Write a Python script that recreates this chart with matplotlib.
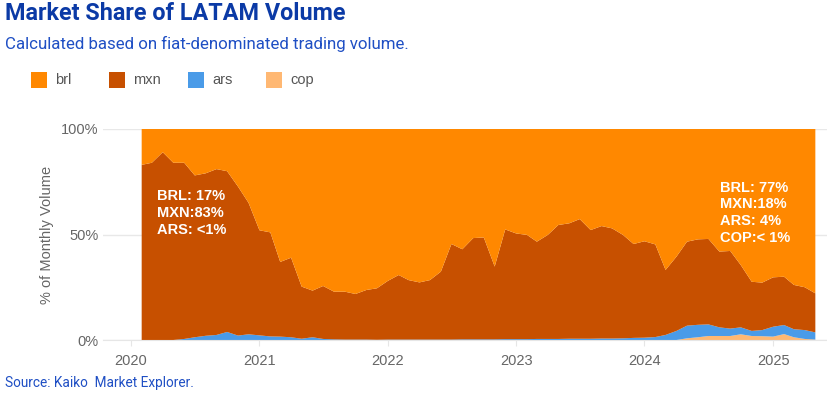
import pandas as pd
import numpy as np
import matplotlib.pyplot as plt
import matplotlib.dates as mdates
from matplotlib.patches import Rectangle

# monthly shares (%), Feb 2020 - May 2025
months = pd.date_range('2020-02-01', '2025-05-01', freq='MS')

brl = [17, 16, 11, 16, 16, 22, 21, 19, 20, 27.3,
       35, 48, 49, 63, 61, 74.7, 76.6, 74.4, 77.1, 77.1,
       78.2, 76.3, 75.5, 72, 69.2, 71.6, 72.7, 71.6, 67.6, 54.5,
       57, 51.7, 51.4, 65.2, 47.6, 49.5, 50.2, 53.4, 50.2, 45.5,
       44.7, 42.7, 47.9, 46, 47.1, 50.2, 54.5, 53.2, 54.7, 66.8,
       60.5, 53.4, 52.3, 52.1, 58.1, 57.8, 64.5, 72.4, 72.8, 70.3,
       70, 73.9, 75, 77.9]
mxn = [83, 84, 89, 84, 83.5, 76.7, 77, 78.6, 76.2, 70.6,
       62.3, 49.8, 49.3, 35.4, 37.7, 24.7, 22.1, 25.1, 22.6, 22.7,
       21.6, 23.5, 24.4, 27.8, 30.6, 28.2, 27.1, 28.2, 32.2, 45.3,
       42.7, 48.0, 48.3, 34.5, 52.0, 50.1, 49.4, 46.1, 49.3, 54.0,
       54.7, 56.7, 51.5, 53.3, 52.2, 49.0, 44.5, 45.7, 43.9, 30.8,
       35.2, 39.8, 40.5, 40.5, 35.9, 36.8, 29.5, 23.3, 22.5, 23.4,
       22.9, 21.0, 20.3, 18.5]
ars = [0, 0, 0, 0, 0.5, 1.3, 2.0, 2.4, 3.8, 2.1,
       2.7, 2.2, 1.7, 1.6, 1.3, 0.6, 1.3, 0.5, 0.3, 0.2,
       0.2, 0.2, 0.1, 0.2, 0.2, 0.2, 0.2, 0.2, 0.2, 0.2,
       0.3, 0.3, 0.3, 0.3, 0.4, 0.4, 0.4, 0.5, 0.5, 0.5,
       0.6, 0.6, 0.6, 0.7, 0.7, 0.8, 1.0, 1.1, 1.4, 2.4,
       4.3, 6.0, 5.9, 5.5, 4.1, 3.5, 3.3, 2.4, 2.9, 4.7,
       4.3, 3.8, 4.2, 3.4]
cop = [0] * 51 + [0.8, 1.3, 1.9, 1.9, 1.9, 2.7, 1.9, 1.8, 1.6,
                  2.8, 1.3, 0.5, 0.2]

series = ['brl', 'mxn', 'ars', 'cop']
colors = {'brl': '#FF8800', 'mxn': '#C75000', 'ars': '#4A9BE8', 'cop': '#FFB873'}

df = pd.DataFrame({'cop': cop, 'ars': ars, 'mxn': mxn, 'brl': brl}, index=months)
share = df.div(df.sum(axis=1), axis=0) * 100

plt.rcParams['font.family'] = ['Liberation Sans', 'DejaVu Sans']

fig = plt.figure(figsize=(8.28, 3.97), dpi=100)
ax = fig.add_axes([103 / 828, 57 / 397, 725 / 828, 211 / 397])

stack_order = ['cop', 'ars', 'mxn', 'brl']
ax.stackplot(share.index, [share[c] for c in stack_order],
             colors=[colors[c] for c in stack_order], linewidth=0, zorder=2)

ax.set_ylim(0, 100)
ax.set_xlim(pd.Timestamp('2019-10-14'), pd.Timestamp('2025-06-06'))
ax.set_yticks([0, 50, 100])
ax.set_yticklabels(['0%', '50%', '100%'])
ax.xaxis.set_major_locator(mdates.YearLocator())
ax.xaxis.set_major_formatter(mdates.DateFormatter('%Y'))
ax.grid(axis='y', color='#e8e8e8', linewidth=1, zorder=0)
ax.tick_params(axis='y', colors='#666666', labelsize=10.5, length=0, pad=3)
ax.tick_params(axis='x', colors='#666666', labelsize=10.5, length=4, pad=6)
ax.tick_params(axis='x', color='#e6e6e6')
for s in ['top', 'right', 'left']:
    ax.spines[s].set_visible(False)
ax.spines['bottom'].set_color('#e6e6e6')
ax.set_ylabel('% of Monthly Volume', color='#666666', fontsize=10.5, labelpad=5)

# annotations
ax.text(pd.Timestamp('2020-03-15'), 71.5, 'BRL: 17%\nMXN:83%\nARS: <1%', color='white',
        fontsize=10.5, fontweight='bold', va='top', linespacing=1.25, zorder=3)
ax.text(pd.Timestamp('2024-08-03'), 75.5, 'BRL: 77%\nMXN:18%\nARS: 4%\nCOP:< 1%', color='white',
        fontsize=10.5, fontweight='bold', va='top', linespacing=1.25, zorder=3)

# titles
fig.text(5 / 828, 1 - 14 / 397, 'Market Share of LATAM Volume', color='#0b3aa6',
         fontsize=16.8, fontweight='bold', va='center', family='Roboto')
fig.text(5 / 828, 1 - 44 / 397, 'Calculated based on fiat-denominated trading volume.',
         color='#1f4fc4', fontsize=12.2, va='center', family='Roboto')
fig.text(5 / 828, 1 - 383 / 397, 'Source: Kaiko  Market Explorer.', color='#1f4fc4',
         fontsize=9.8, va='center', family='Roboto')

# legend with fixed-width entries
for i, name in enumerate(series):
    x0 = 31 + 78.5 * i
    fig.patches.append(Rectangle((x0 / 828, 1 - 88 / 397), 16 / 828, 16 / 397,
                                 facecolor=colors[name], edgecolor='none',
                                 transform=fig.transFigure, figure=fig))
    fig.text((x0 + 24) / 828, 1 - 80 / 397, name, color='#555555', fontsize=10.5,
             va='center')

fig.savefig('out.png', dpi=100)
